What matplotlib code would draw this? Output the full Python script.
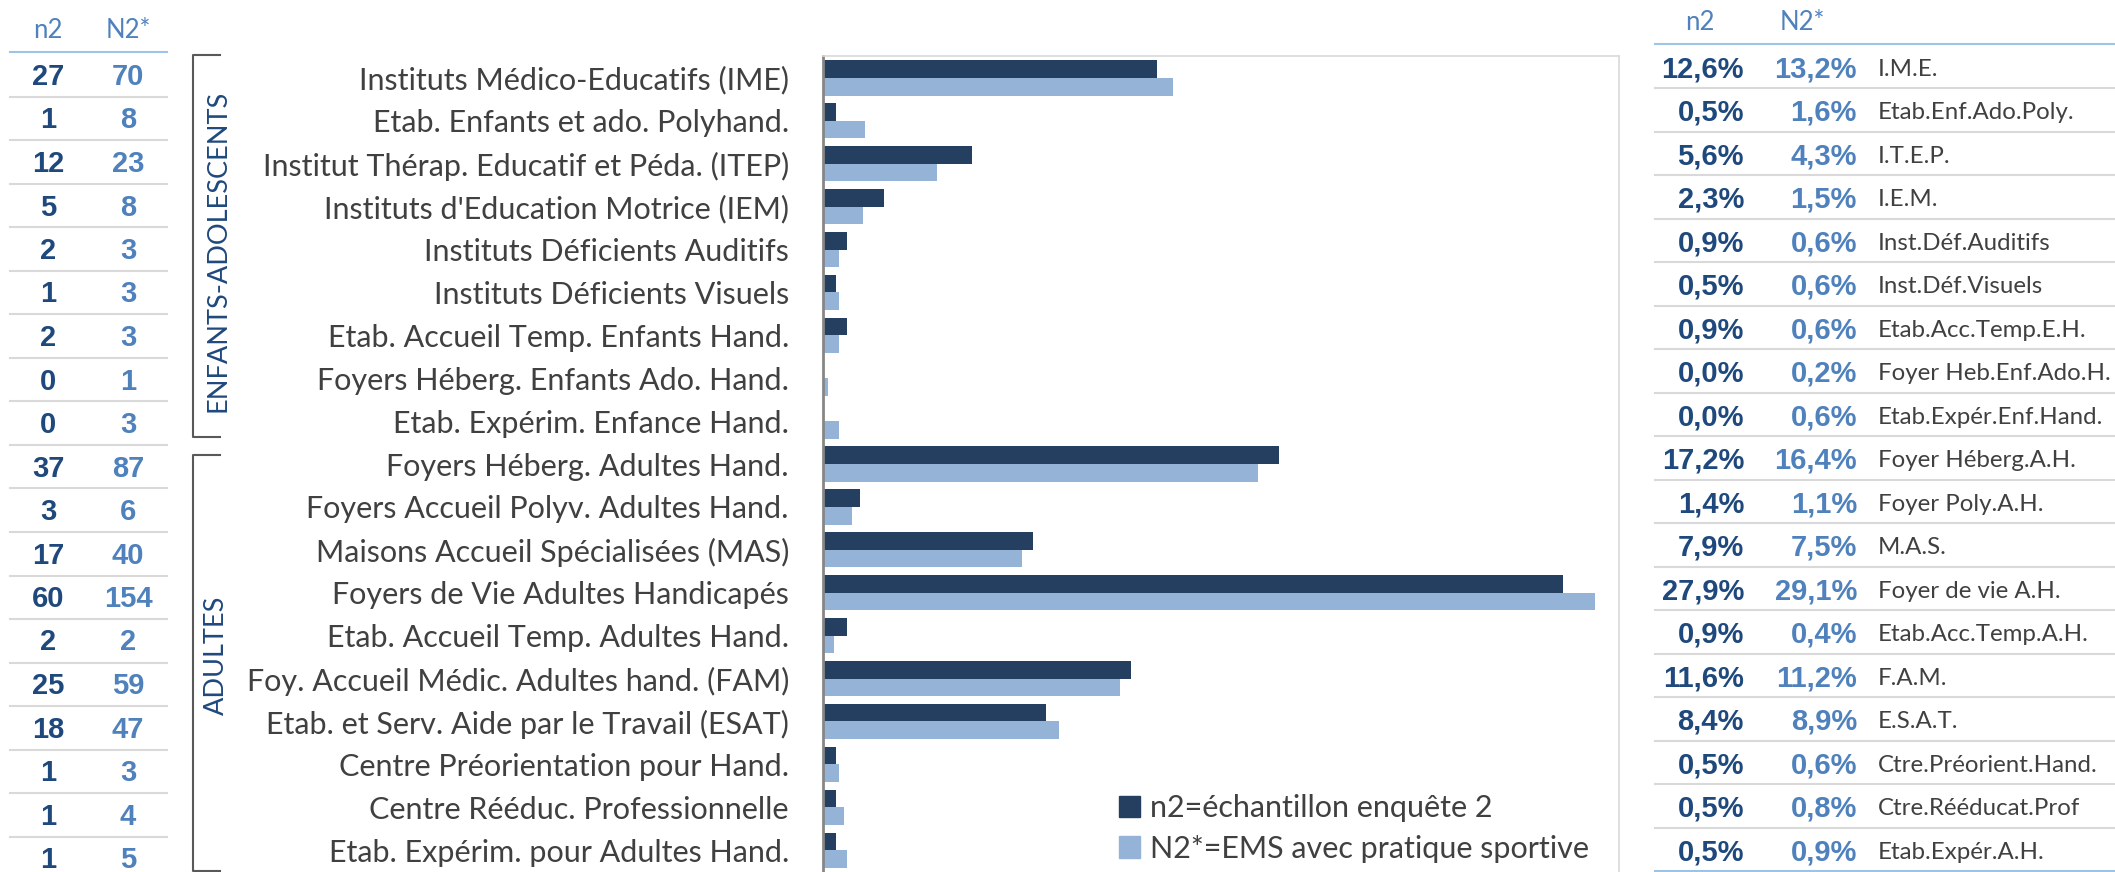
import matplotlib.pyplot as plt
from matplotlib.patches import Patch
from matplotlib.lines import Line2D

W, H = 2115, 872

categories = [
    "Instituts Médico-Educatifs (IME)",
    "Etab. Enfants et ado. Polyhand.",
    "Institut Thérap. Educatif et Péda. (ITEP)",
    "Instituts d'Education Motrice (IEM)",
    "Instituts Déficients Auditifs",
    "Instituts Déficients Visuels",
    "Etab. Accueil Temp. Enfants Hand.",
    "Foyers Héberg. Enfants Ado. Hand.",
    "Etab. Expérim. Enfance Hand.",
    "Foyers Héberg. Adultes Hand.",
    "Foyers Accueil Polyv. Adultes Hand.",
    "Maisons Accueil Spécialisées (MAS)",
    "Foyers de Vie Adultes Handicapés",
    "Etab. Accueil Temp. Adultes Hand.",
    "Foy. Accueil Médic. Adultes hand. (FAM)",
    "Etab. et Serv. Aide par le Travail (ESAT)",
    "Centre Préorientation pour Hand.",
    "Centre Rééduc. Professionnelle",
    "Etab. Expérim. pour Adultes Hand.",
]
abbrev = [
    "I.M.E.", "Etab.Enf.Ado.Poly.", "I.T.E.P.", "I.E.M.", "Inst.Déf.Auditifs",
    "Inst.Déf.Visuels", "Etab.Acc.Temp.E.H.", "Foyer Heb.Enf.Ado.H.",
    "Etab.Expér.Enf.Hand.", "Foyer Héberg.A.H.", "Foyer Poly.A.H.", "M.A.S.",
    "Foyer de vie A.H.", "Etab.Acc.Temp.A.H.", "F.A.M.", "E.S.A.T.",
    "Ctre.Préorient.Hand.", "Ctre.Rééducat.Prof", "Etab.Expér.A.H.",
]
n2_count = [27, 1, 12, 5, 2, 1, 2, 0, 0, 37, 3, 17, 60, 2, 25, 18, 1, 1, 1]
N2_count = [70, 8, 23, 8, 3, 3, 3, 1, 3, 87, 6, 40, 154, 2, 59, 47, 3, 4, 5]
n2_pct = [12.6, 0.5, 5.6, 2.3, 0.9, 0.5, 0.9, 0.0, 0.0, 17.2, 1.4, 7.9, 27.9,
          0.9, 11.6, 8.4, 0.5, 0.5, 0.5]
N2_pct = [13.2, 1.6, 4.3, 1.5, 0.6, 0.6, 0.6, 0.2, 0.6, 16.4, 1.1, 7.5, 29.1,
          0.4, 11.2, 8.9, 0.6, 0.8, 0.9]
groups = ["ENFANTS-ADOLESCENTS", "ADULTES"]
legend_labels = ["n2=échantillon enquête 2", "N2*=EMS avec pratique sportive"]

dark = '#243F60'
light = '#95B3D7'
num_dark = '#1F497D'
num_light = '#4F81BD'
txt = '#404040'

plt.rcParams['font.family'] = ['Lato', 'DejaVu Sans']

fig = plt.figure(figsize=(W / 100, H / 100), dpi=100)


def fx(x):
    return x / W


def fy(y):
    return 1 - y / H


# bar chart
ax = fig.add_axes([fx(823), fy(871.6), fx(1619) - fx(823), (871.6 - 56.5) / H])
idx = list(range(len(categories)))
h = 0.41
ax.barh([i - h / 2 for i in idx], n2_pct, height=h, color=dark)
ax.barh([i + h / 2 for i in idx], N2_pct, height=h, color=light)
ax.set_xlim(0, 30)
ax.set_ylim(len(categories) - 0.5, -0.5)
ax.set_xticks([])
ax.set_yticks(idx, categories)
ax.tick_params(axis='y', length=0, pad=24.5, labelsize=22, labelcolor=txt)
ax.spines['left'].set_color('#868686')
ax.spines['left'].set_linewidth(2)
for s in ['top', 'right']:
    ax.spines[s].set_color('#D9D9D9')
    ax.spines[s].set_linewidth(1.2)
ax.spines['bottom'].set_visible(False)

handles = [Patch(color=dark, label=legend_labels[0]),
           Patch(color=light, label=legend_labels[1])]
fig.legend(handles=handles, loc='upper left', bbox_to_anchor=(fx(1119), fy(794)),
           frameon=False, fontsize=22, handlelength=0.7, handleheight=0.7,
           handletextpad=0.3, labelspacing=0.42, borderpad=0, borderaxespad=0,
           labelcolor=txt)

# group brackets
brackets = [(55, 437), (455, 871)]
for (top, bot), name in zip(brackets, groups):
    fig.add_artist(Line2D([fx(220), fx(193), fx(193), fx(220)],
                          [fy(top), fy(top), fy(bot), fy(bot)],
                          transform=fig.transFigure, color='#595959', lw=1.5))
fig.text(fx(218), fy(251), groups[0], rotation=90, ha='center', va='center',
         fontsize=19.5, color=num_dark)
fig.text(fx(216), fy(655), groups[1], rotation=90, ha='center', va='center',
         fontsize=19.5, color=num_dark)

# left table of counts
fig.text(fx(48), fy(30), "n2", ha='center', va='center', fontsize=18.5, color=num_light)
fig.text(fx(128), fy(30), "N2*", ha='center', va='center', fontsize=18.5, color=num_light)
fig.add_artist(Line2D([fx(10), fx(167)], [fy(52), fy(52)], transform=fig.transFigure,
                      color='#9DC3E6', lw=1.5))
pitch = 43.5
for i in idx:
    y = 77 + i * pitch
    fig.text(fx(48), fy(y), str(n2_count[i]), ha='center', va='center', fontsize=21,
             fontweight='bold', color=num_dark, family='Liberation Sans')
    fig.text(fx(128), fy(y), str(N2_count[i]), ha='center', va='center', fontsize=21,
             fontweight='bold', color=num_light, family='Liberation Sans')
    if i < len(idx) - 1:
        ys = 97 + i * pitch
        fig.add_artist(Line2D([fx(10), fx(167)], [fy(ys), fy(ys)],
                              transform=fig.transFigure, color='#D9D9D9', lw=1.5))

# right table of percentages
fig.text(fx(1700), fy(22), "n2", ha='center', va='center', fontsize=18.5, color=num_light)
fig.text(fx(1802), fy(22), "N2*", ha='center', va='center', fontsize=18.5, color=num_light)
fig.add_artist(Line2D([fx(1655), fx(2115)], [fy(44), fy(44)], transform=fig.transFigure,
                      color='#9DC3E6', lw=1.5))
for i in idx:
    y = 69.3 + i * pitch
    fig.text(fx(1744), fy(y), f"{n2_pct[i]:.1f}%".replace('.', ','), ha='right',
             va='center', fontsize=21, fontweight='bold', color=num_dark,
             family='Liberation Sans')
    fig.text(fx(1857), fy(y), f"{N2_pct[i]:.1f}%".replace('.', ','), ha='right',
             va='center', fontsize=21, fontweight='bold', color=num_light,
             family='Liberation Sans')
    fig.text(fx(1878), fy(y), abbrev[i], ha='left', va='center', fontsize=17.3,
             color=txt)
    ys = 88.3 + i * pitch
    col = '#9DC3E6' if i == len(idx) - 1 else '#D9D9D9'
    fig.add_artist(Line2D([fx(1655), fx(2115)], [fy(ys), fy(ys)],
                          transform=fig.transFigure, color=col, lw=1.5))

fig.savefig('out.png', dpi=100)
